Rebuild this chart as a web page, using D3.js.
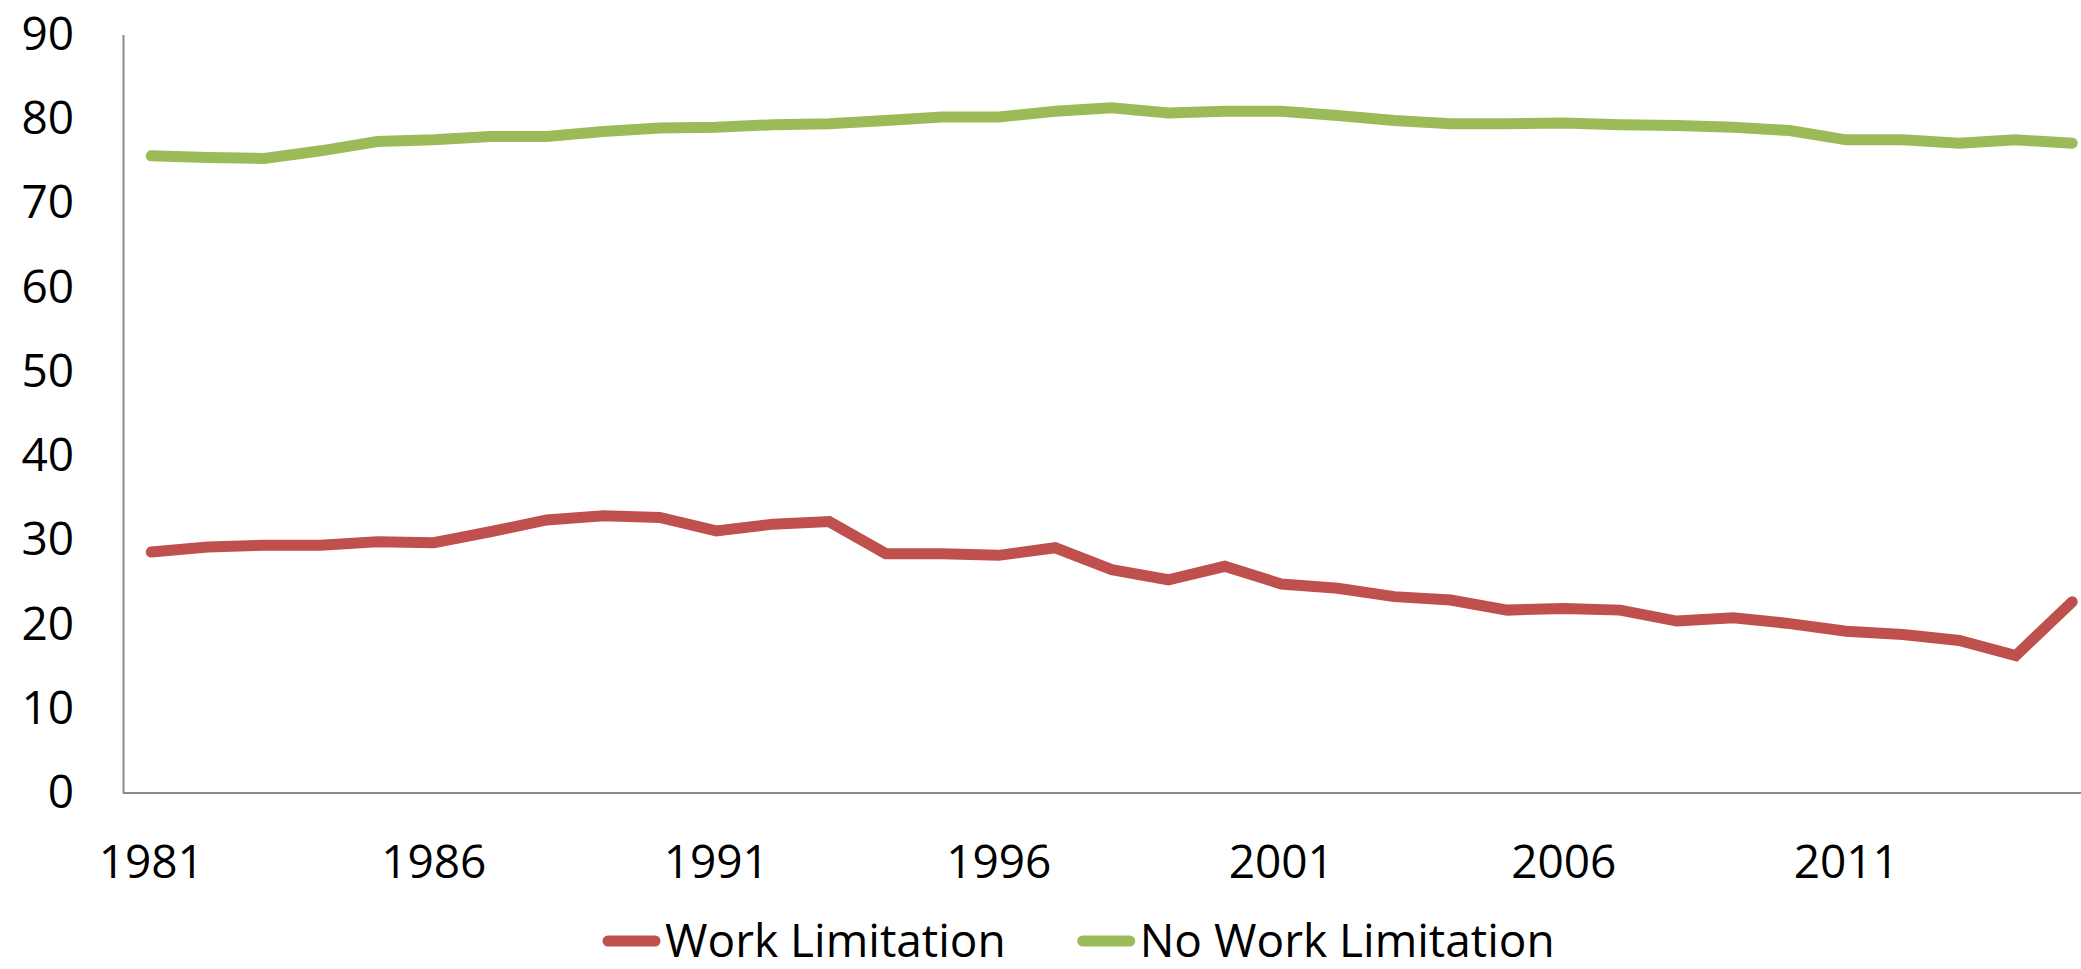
<!DOCTYPE html>
<html>
<head>
<meta charset="utf-8">
<script src="https://cdnjs.cloudflare.com/ajax/libs/d3/7.8.5/d3.min.js"></script>
<style>
  body { margin: 0; background: #fff; }
  text { font-family: "Open Sans", "Noto Sans", sans-serif; fill: #000; }
</style>
</head>
<body>
<script>
// data
var years = d3.range(1981, 2016);
var workLimitation = [28.6, 29.2, 29.4, 29.4, 29.8, 29.7, 31.0, 32.4, 32.9, 32.7,
                      31.1, 31.9, 32.2, 28.4, 28.4, 28.2, 29.1, 26.5, 25.3, 26.9,
                      24.8, 24.3, 23.3, 22.9, 21.7, 21.9, 21.7, 20.4, 20.8, 20.1,
                      19.2, 18.8, 18.1, 16.3, 22.7];
var noWorkLimitation = [75.6, 75.4, 75.3, 76.2, 77.3, 77.5, 77.9, 77.9, 78.5, 78.9,
                        79.0, 79.3, 79.4, 79.8, 80.2, 80.2, 80.9, 81.3, 80.7, 80.9,
                        80.9, 80.4, 79.8, 79.4, 79.4, 79.5, 79.3, 79.2, 79.0, 78.6,
                        77.5, 77.5, 77.1, 77.5, 77.1];
var yTicks = [0, 10, 20, 30, 40, 50, 60, 70, 80, 90];
var xTickYears = [1981, 1986, 1991, 1996, 2001, 2006, 2011];
var seriesNames = ["Work Limitation", "No Work Limitation"];
var seriesColors = ["#c0504d", "#9bbb59"];

// define width and height
var w = 2081;
var h = 969;
var plotLeft = 123;
var plotTop = 34.5;
var plotBottom = 793;
var step = 56.5;

var svg = d3.select("body")
            .append("svg")
            .attr("width", w)
            .attr("height", h);

// scales: categories in bands, points in band centres (like a category axis)
var xScale = d3.scaleBand()
               .domain(years)
               .range([plotLeft, plotLeft + years.length * step]);
var yScale = d3.scaleLinear()
               .domain([0, 90])
               .range([plotBottom, plotTop]);

function xPos(yr) { return xScale(yr) + xScale.bandwidth() / 2; }

// y axis
var yAxis = svg.append("g")
               .attr("transform", "translate(" + plotLeft + ",0)")
               .call(d3.axisLeft(yScale).tickValues(yTicks).tickSize(0).tickPadding(49));
yAxis.selectAll("text").style("font-size", "46px");

// x axis
var xAxis = svg.append("g")
               .attr("transform", "translate(0," + plotBottom + ")")
               .call(d3.axisBottom(xScale).tickValues(xTickYears).tickSize(0).tickPadding(52));
xAxis.selectAll("text").style("font-size", "46px");

svg.selectAll(".domain")
   .attr("stroke", "#8c8c8c")
   .attr("stroke-width", 2);
// extend the x axis line to the right edge
xAxis.select(".domain").attr("d", "M" + plotLeft + ",0H" + w);

// lines
var line = d3.line()
             .x(function(d, i) { return xPos(years[i]); })
             .y(function(d) { return yScale(d); });

var seriesData = [workLimitation, noWorkLimitation];

svg.selectAll(".series")
   .data(seriesData)
   .enter()
   .append("path")
   .attr("class", "series")
   .attr("d", line)
   .attr("fill", "none")
   .attr("stroke", function(d, i) { return seriesColors[i]; })
   .attr("stroke-width", 11)
   .attr("stroke-linecap", "round")
   .attr("stroke-linejoin", "miter");

// legend (kept just inside the bottom edge)
var legendY = 941;
var lx = 603;
seriesNames.forEach(function(name, i) {
    svg.append("line")
       .attr("x1", lx + 5)
       .attr("x2", lx + 52)
       .attr("y1", legendY)
       .attr("y2", legendY)
       .attr("stroke", seriesColors[i])
       .attr("stroke-width", 11)
       .attr("stroke-linecap", "round");
    var t = svg.append("text")
               .attr("x", lx + 62)
               .attr("y", legendY)
               .attr("dy", "0.35em")
               .style("font-size", "46px")
               .text(name);
    lx = lx + 62 + t.node().getComputedTextLength() + 72;
});
</script>
</body>
</html>
